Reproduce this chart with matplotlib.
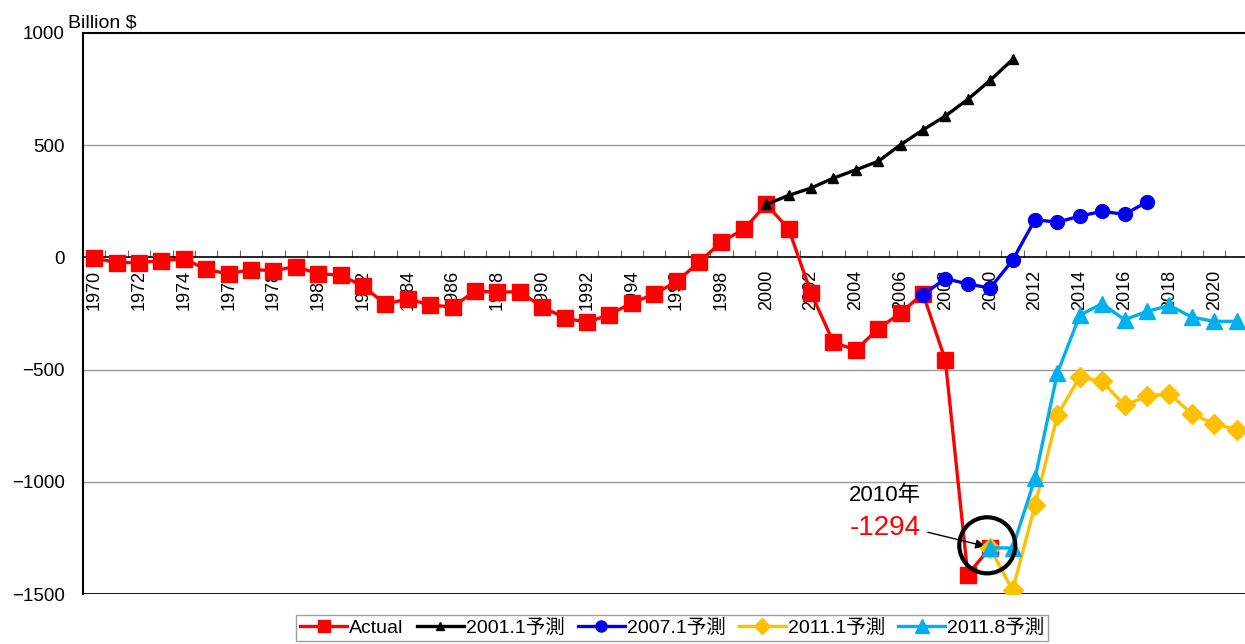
import matplotlib
matplotlib.use("Agg")
import matplotlib.pyplot as plt
from matplotlib.patches import Ellipse
import numpy as np

plt.rcParams['font.family'] = ['Liberation Sans', 'Noto Sans CJK JP', 'DejaVu Sans']

# Datos (Billion $)
anys_actual = list(range(1970, 2011))
valors_actual = [-3, -23, -23, -15, -6, -53, -74, -54, -59, -41,
                 -73, -79, -128, -208, -185, -212, -221, -150, -155, -153,
                 -221, -269, -290, -255, -203, -164, -107, -22, 69, 125,
                 236, 128, -158, -378, -413, -318, -248, -161, -459, -1413,
                 -1294]

anys_2001 = list(range(2000, 2012))
valors_2001 = [236, 276, 309, 353, 390, 428, 502, 568, 630, 704, 789, 882]

anys_2007 = list(range(2007, 2018))
valors_2007 = [-166, -95, -118, -137, -13, 168, 157, 184, 205, 192, 247]

anys_2011_1 = list(range(2010, 2022))
valors_2011_1 = [-1294, -1484, -1105, -704, -533, -553, -659, -619, -607, -697, -741, -768]

anys_2011_8 = list(range(2010, 2022))
valors_2011_8 = [-1294, -1295, -985, -516, -258, -206, -278, -241, -214, -266, -285, -285]

etiquetes_x = list(range(1970, 2021, 2))

fig = plt.figure(figsize=(12.45, 6.44), dpi=100)
ax = fig.add_axes([0.0667, 0.0776, 0.9355, 0.8712])

lw = 2.4
ax.plot(anys_actual, valors_actual, color='#ff0000', lw=lw, marker='s', ms=11, label='Actual', zorder=3)
ax.plot(anys_2001, valors_2001, color='black', lw=lw, marker='^', ms=7.5, label='2001.1予測', zorder=4)
ax.plot(anys_2007, valors_2007, color='#0000ee', lw=lw, marker='o', ms=10, label='2007.1予測', zorder=4)
ax.plot(anys_2011_1, valors_2011_1, color='#ffc000', lw=lw, marker='D', ms=10, label='2011.1予測', zorder=4)
ax.plot(anys_2011_8, valors_2011_8, color='#00b0f0', lw=lw, marker='^', ms=12, label='2011.8予測', zorder=5)

ax.set_xlim(1969.5, 2021.5)
ax.set_ylim(-1500, 1000)

# Rejilla y líneas
for y in [500, -500, -1000]:
    ax.axhline(y, color='#999999', lw=1, zorder=1)
ax.axhline(-1500, color='black', lw=2, zorder=2)

ax.spines['bottom'].set_position(('data', 0))
ax.spines['bottom'].set_linewidth(1.2)
ax.spines['top'].set_linewidth(1.5)
ax.spines['left'].set_linewidth(1.5)
ax.spines['right'].set_visible(False)

ax.set_xticks(np.arange(1969.5, 2022, 1))
ax.set_xticklabels([])
ax.tick_params(axis='x', which='major', direction='in', length=5, color='#666666')
ax.set_xticks(etiquetes_x, minor=True)
ax.set_xticklabels([str(a) for a in etiquetes_x], minor=True, rotation=90, fontsize=13)
ax.tick_params(axis='x', which='minor', length=0, pad=9)

ax.set_yticks([-1500, -1000, -500, 0, 500, 1000])
ax.set_yticklabels(['−1500', '−1000', '−500', '0', '500', '1000'])
ax.tick_params(axis='y', length=0, pad=13, labelsize=13.5)

fig.text(0.055, 0.958, 'Billion $', fontsize=14, va='baseline', ha='left')

# Anotación 2010
ax.text(2005.3, -1060, '2010年', fontsize=16, ha='center', va='center')
ax.text(2005.3, -1205, '-1294', fontsize=20, color='#ff0000', ha='center', va='center')
ax.annotate('', xy=(2009.9, -1290), xytext=(2007.1, -1222),
            arrowprops=dict(arrowstyle='-|>', color='black', lw=1, mutation_scale=14))
ax.add_patch(Ellipse((2009.87, -1283), 2.5, 250, fill=False, ec='black', lw=3, zorder=6))

leg = fig.legend(loc='upper center', bbox_to_anchor=(0.540, 0.06), ncol=5, fontsize=14,
                 frameon=True, fancybox=False, edgecolor='#888888', handlelength=2.4,
                 handletextpad=0.1, columnspacing=0.7, borderpad=0.2, markerscale=0.8)
leg.get_frame().set_linewidth(1)

plt.savefig('out.png', dpi=100)
